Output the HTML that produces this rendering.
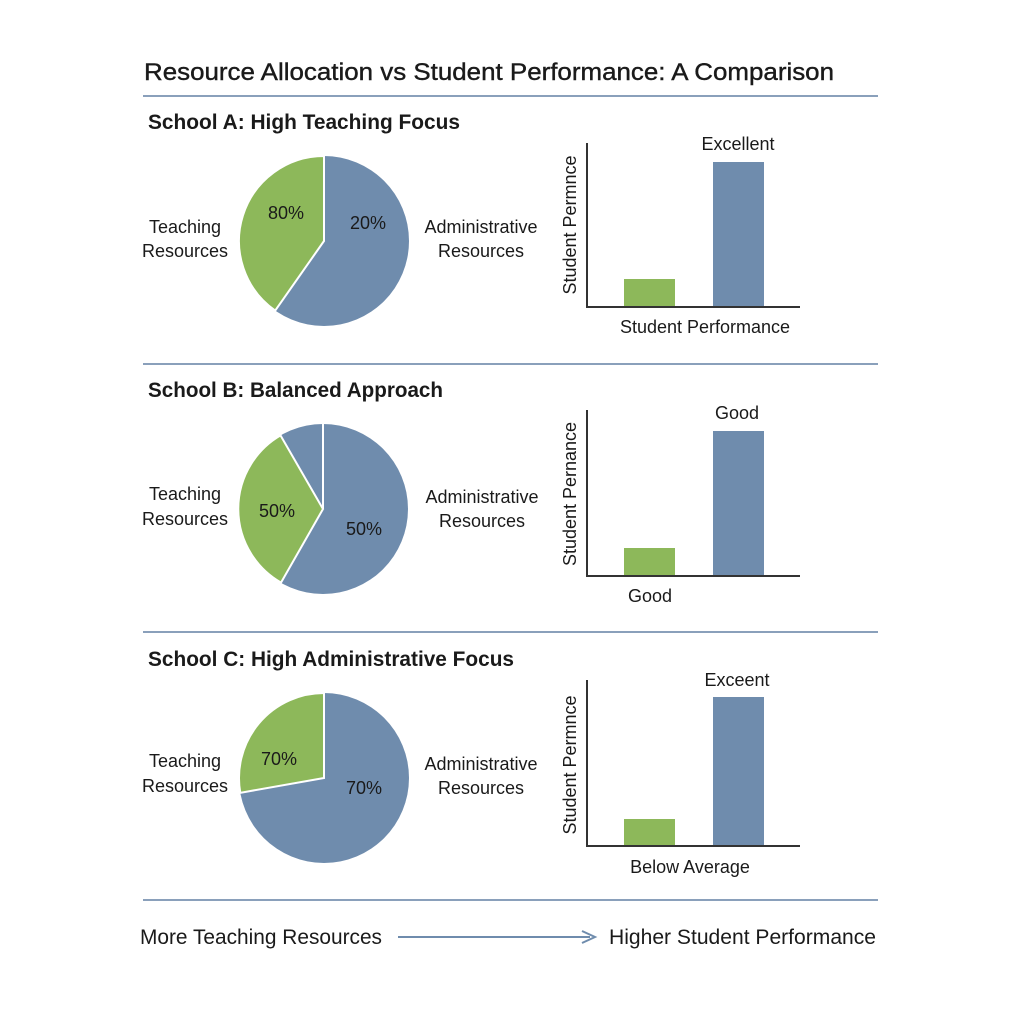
<!DOCTYPE html>
<html><head><style>body{margin:0;background:#fff}svg{display:block}text{font-family:"Liberation Sans",sans-serif;fill:#1a1a1a}</style></head><body>
<svg width="1024" height="1024" viewBox="0 0 1024 1024">
<rect width="1024" height="1024" fill="#fff"/>
<text x="144" y="80" font-size="24" textLength="690" lengthAdjust="spacingAndGlyphs" stroke="#1a1a1a" stroke-width="0.4">Resource Allocation vs Student Performance: A Comparison</text>
<g stroke="#8aa0bb" stroke-width="2"><line x1="143" y1="96" x2="878" y2="96"/><line x1="143" y1="364" x2="878" y2="364"/><line x1="143" y1="632" x2="878" y2="632"/><line x1="143" y1="900" x2="878" y2="900"/></g>
<g font-size="21" font-weight="bold"><text x="148" y="129" textLength="312" lengthAdjust="spacingAndGlyphs">School A: High Teaching Focus</text><text x="148" y="397" textLength="295" lengthAdjust="spacingAndGlyphs">School B: Balanced Approach</text><text x="148" y="666" textLength="366" lengthAdjust="spacingAndGlyphs">School C: High Administrative Focus</text></g>
<circle cx="324" cy="241" r="85" fill="#6f8cad"/>
<path d="M324 241 L275.2 310.6 A85 85 0 0 1 324 156 Z" fill="#8db85a" stroke="#fff" stroke-width="2"/>
<circle cx="323" cy="509" r="85" fill="#6f8cad"/>
<path d="M323 509 L281 582.6 A85 85 0 0 1 280.5 435.4 Z" fill="#8db85a" stroke="#fff" stroke-width="2"/>
<line x1="323" y1="509" x2="323" y2="424" stroke="#fff" stroke-width="2"/>
<circle cx="324" cy="778" r="85" fill="#6f8cad"/>
<path d="M324 778 L240.3 792.8 A85 85 0 0 1 324 693 Z" fill="#8db85a" stroke="#fff" stroke-width="2"/>
<g font-size="18">
<text x="268" y="219">80%</text><text x="350" y="229">20%</text>
<text x="259" y="517">50%</text><text x="346" y="535">50%</text>
<text x="261" y="765">70%</text><text x="346" y="794">70%</text>
<g text-anchor="middle">
<text x="185" y="233">Teaching</text><text x="185" y="257">Resources</text>
<text x="481" y="233">Administrative</text><text x="481" y="257">Resources</text>
<text x="185" y="500">Teaching</text><text x="185" y="525">Resources</text>
<text x="482" y="503">Administrative</text><text x="482" y="527">Resources</text>
<text x="185" y="767">Teaching</text><text x="185" y="792">Resources</text>
<text x="481" y="770">Administrative</text><text x="481" y="794">Resources</text>
<text x="738" y="150">Excellent</text><text x="705" y="333">Student Performance</text>
<text x="737" y="419">Good</text><text x="650" y="602">Good</text>
<text x="737" y="686">Exceent</text><text x="690" y="873">Below Average</text>
</g>
<text transform="translate(576 225) rotate(-90)" text-anchor="middle">Student Permnce</text>
<text transform="translate(576 494) rotate(-90)" text-anchor="middle">Student Pernance</text>
<text transform="translate(576 765) rotate(-90)" text-anchor="middle">Student Permnce</text>
</g>
<g fill="#8db85a"><rect x="624" y="279" width="51" height="27"/><rect x="624" y="548" width="51" height="27"/><rect x="624" y="819" width="51" height="26"/></g>
<g fill="#6f8cad"><rect x="713" y="162" width="51" height="144"/><rect x="713" y="431" width="51" height="144"/><rect x="713" y="697" width="51" height="148"/></g>
<g stroke="#333" stroke-width="2" fill="none">
<path d="M587 143 V307 H800"/><path d="M587 410 V576 H800"/><path d="M587 680 V846 H800"/>
</g>
<text x="140" y="944" font-size="21" textLength="242" lengthAdjust="spacingAndGlyphs">More Teaching Resources</text>
<text x="609" y="944" font-size="21" textLength="267" lengthAdjust="spacingAndGlyphs">Higher Student Performance</text>
<line x1="398" y1="937" x2="590" y2="937" stroke="#6f8cad" stroke-width="2"/>
<path d="M582 931 L595 937 L582 943" fill="none" stroke="#6f8cad" stroke-width="2"/>
</svg>
</body></html>
